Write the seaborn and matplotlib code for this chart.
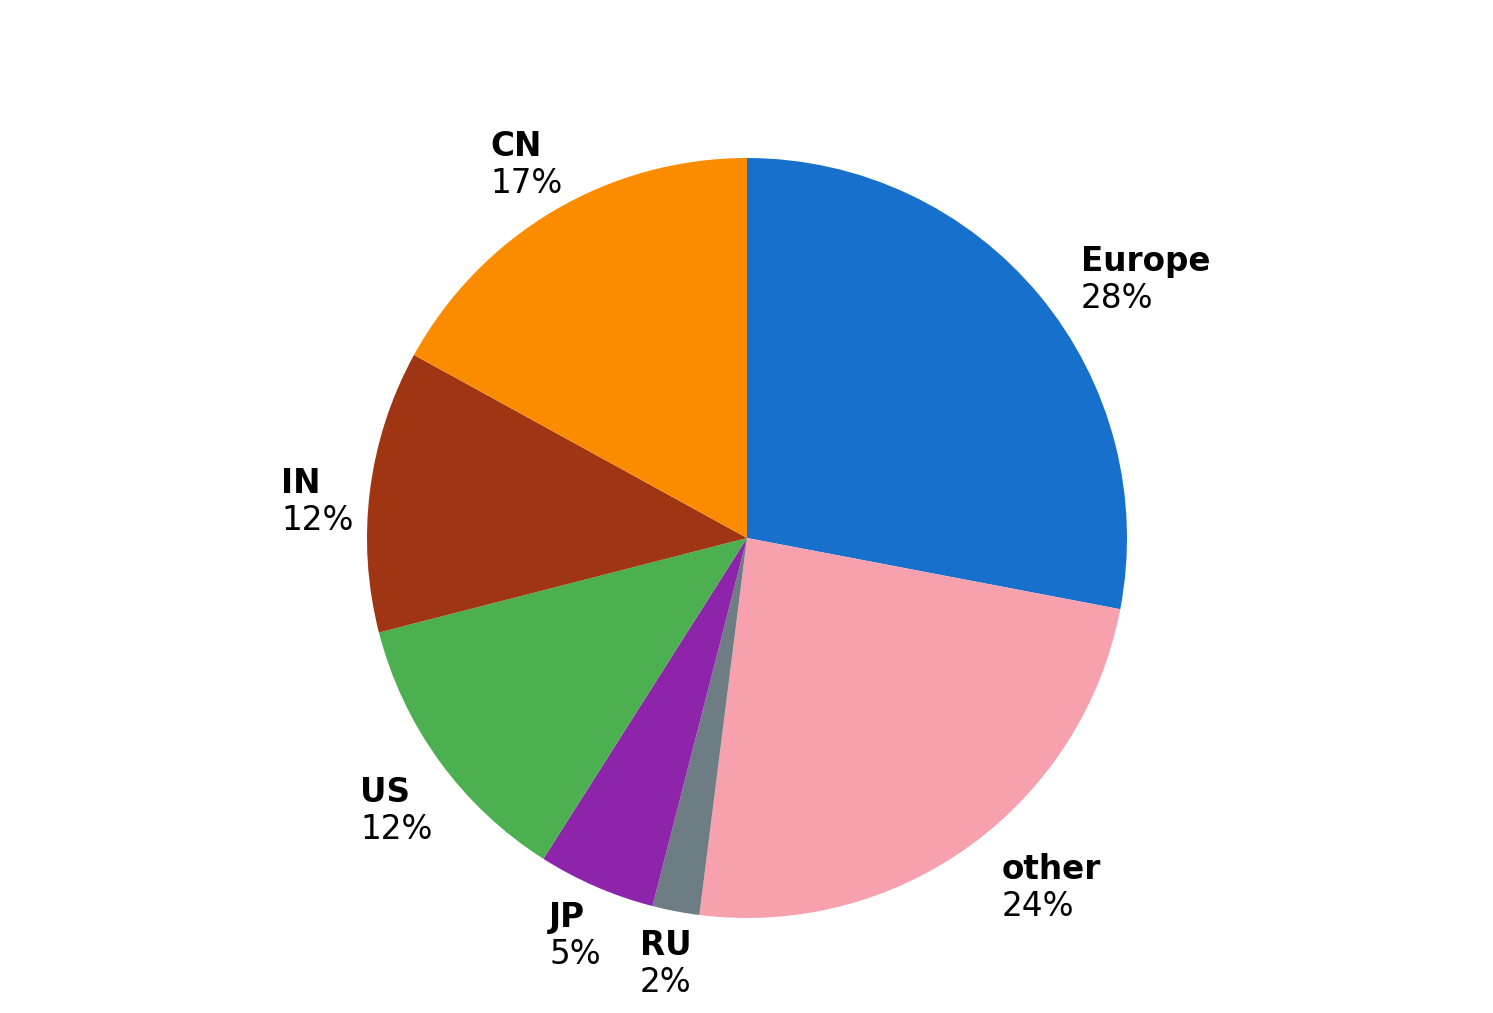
import numpy as np
import matplotlib
matplotlib.use("Agg")
import matplotlib.pyplot as plt
import seaborn as sns

# 各區域占比（%），從 12 點鐘方向順時針
regions = ["Europe", "other", "RU", "JP", "US", "IN", "CN"]
shares = [28, 24, 2, 5, 12, 12, 17]
colors = ["#1770CB", "#F7A1AF", "#6E7D83", "#8E24AA", "#4CAF50", "#9F3513", "#FB8C00"]

sns.set_theme(style="white")
plt.rcParams["font.family"] = ["DejaVu Sans"]

fig = plt.figure(figsize=(14.93, 10.13), dpi=100)
# 圓心約在 (747, 538) px，半徑約 380 px
lim = 1.3
side = 2 * 380 * lim
ax = fig.add_axes([(747 - side / 2) / 1493, (475 - side / 2) / 1013,
                   side / 1493, side / 1013])

wedges, _ = ax.pie(shares, colors=colors, startangle=90, counterclock=False,
                   radius=1, wedgeprops=dict(linewidth=0))
ax.set_xlim(-lim, lim)
ax.set_ylim(-lim, lim)
ax.set_aspect("equal")
ax.axis("off")

label_r = 1.14
line_gap = 37  # px
renderer = fig.canvas.get_renderer()
for w, name, val in zip(wedges, regions, shares):
    mid = np.deg2rad((w.theta1 + w.theta2) / 2)
    x, y = label_r * np.cos(mid), label_r * np.sin(mid)
    # 兩側的標籤以第一行對齊錨點，上下方的以整個區塊置中
    if abs(np.cos(mid)) > 0.7:
        y_name, y_pct = 0, -line_gap
    else:
        y_name, y_pct = line_gap / 2, -line_gap / 2
    t1 = ax.annotate(name, (x, y), xytext=(0, y_name), textcoords="offset pixels",
                     ha="left", va="center", fontsize=23.5, fontweight="bold", color="black")
    t2 = ax.annotate(f"{val}%", (x, y), xytext=(0, y_pct), textcoords="offset pixels",
                     ha="left", va="center", fontsize=23.5, color="black")
    if x < 0:
        # 左側標籤：整個文字區塊水平置中於錨點，兩行左對齊
        bw = max(t1.get_window_extent(renderer).width, t2.get_window_extent(renderer).width)
        t1.set_position((-bw / 2, y_name))
        t2.set_position((-bw / 2, y_pct))

fig.savefig("out.png", dpi=100)
